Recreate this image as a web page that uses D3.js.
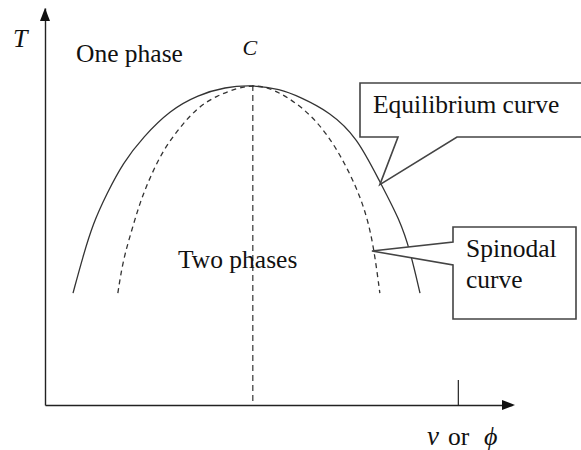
<!DOCTYPE html>
<html>
<head>
<meta charset="utf-8">
<script src="https://cdn.jsdelivr.net/npm/d3@7"></script>
<style>
  html, body { margin: 0; padding: 0; background: #fff; }
  text { font-family: 'Liberation Serif', 'Times New Roman', serif; fill: #111; }
</style>
</head>
<body>
<div id="chart"></div>
<script>
// curve samples (x = v or phi, T), both in 0..100 units
const equilibriumX = [6.0, 8.1, 10.3, 13.3, 16.7, 21.0, 26.8, 32.8, 38.5, 44.5, 50.3, 54.6, 61.0, 66.8, 71.7, 76.0, 78.2, 80.3]
const equilibriumT = [28.2, 37.3, 45.8, 53.4, 61.0, 67.5, 74.3, 78.1, 80.1, 80.6, 79.6, 77.6, 73.8, 67.5, 56.2, 46.6, 38.8, 28.2]
const spinodalX = [15.6, 16.7, 18.6, 20.3, 22.5, 25.3, 28.9, 32.8, 36.8, 41.1, 44.5, 48.8, 55.2, 60.4, 64.7, 68.1, 70.2, 71.7]
const spinodalT = [28.2, 36.5, 44.1, 50.9, 57.4, 64.2, 70.0, 75.1, 77.9, 79.8, 80.6, 79.8, 75.1, 68.5, 59.9, 50.9, 41.6, 28.2]
const critical = { x: 44.5, T: 80.6 }
const markTick = [88.4]

const fullWidth = 581, fullHeight = 450

const svg = d3.select('#chart')
  .append('svg')
    .attr('width', fullWidth)
    .attr('height', fullHeight)

const xScale = d3.scaleLinear().domain([0, 100]).range([45, 512])
const yScale = d3.scaleLinear().domain([0, 100]).range([405, 8])

const ink = '#333'

// axes
svg.append('g')
  .attr('transform', `translate(0, ${yScale(0)})`)
  .call(d3.axisBottom(xScale).tickValues(markTick).tickSize(-25).tickSizeOuter(0).tickFormat(''))
  .call(thinAxis)

svg.append('g')
  .attr('transform', `translate(${xScale(0)}, 0)`)
  .call(d3.axisLeft(yScale).tickValues([]).tickSizeOuter(0))
  .call(thinAxis)

// arrow heads
const x1 = xScale(100), y0 = yScale(0), yTop = yScale(100), x0 = xScale(0)
svg.append('path')
  .attr('d', `M${x1 + 3},${y0} L${x1 - 10},${y0 - 5} L${x1 - 10},${y0 + 5} Z`)
  .attr('fill', '#111')
svg.append('path')
  .attr('d', `M${x0},${yTop} L${x0 - 5},${yTop + 13} L${x0 + 5},${yTop + 13} Z`)
  .attr('fill', '#111')

// curves (basis smooths out reading noise)
const line = d3.line()
  .x(d => xScale(d[0]))
  .y(d => yScale(d[1]))
  .curve(d3.curveBasis)

svg.append('path')
  .datum(d3.zip(equilibriumX, equilibriumT))
  .attr('d', line)
  .attr('fill', 'none')
  .attr('stroke', ink)
  .attr('stroke-width', 1.3)

svg.append('path')
  .datum(d3.zip(spinodalX, spinodalT))
  .attr('d', line)
  .attr('fill', 'none')
  .attr('stroke', ink)
  .attr('stroke-width', 1.3)
  .attr('stroke-dasharray', '5,4')

svg.append('line')
  .attr('x1', xScale(critical.x)).attr('x2', xScale(critical.x))
  .attr('y1', yScale(critical.T)).attr('y2', yScale(0))
  .attr('stroke', ink)
  .attr('stroke-width', 1.2)
  .attr('stroke-dasharray', '6,4')

// labels
svg.append('text').attr('x', 13).attr('y', 47)
  .style('font-style', 'italic').style('font-size', '26px').text('T')
svg.append('text').attr('x', 76).attr('y', 62)
  .style('font-size', '25.5px').text('One phase')
svg.append('text').attr('x', xScale(critical.x) - 3).attr('y', 55)
  .attr('text-anchor', 'middle')
  .style('font-style', 'italic').style('font-size', '22px').text('C')
svg.append('text').attr('x', 178).attr('y', 268)
  .style('font-size', '25.5px').text('Two phases')

svg.append('text').attr('x', 427).attr('y', 445)
  .style('font-style', 'italic').style('font-size', '27px').text('v')
svg.append('text').attr('x', 448).attr('y', 445)
  .style('font-size', '25.5px').text('or')
svg.append('text').attr('x', 484).attr('y', 445)
  .style('font-style', 'italic').style('font-size', '26px').text('ϕ')

// callouts
const eqTip = [xScale(71.7), yScale(55.5)]
svg.append('path')
  .attr('d', `M360,83 H590 V137 H457 L${eqTip[0]},${eqTip[1]} L398,137 H360 Z`)
  .attr('fill', '#fff')
  .attr('stroke', '#444')
  .attr('stroke-width', 1.6)
svg.append('text').attr('x', 373).attr('y', 113)
  .style('font-size', '25.5px').text('Equilibrium curve')

const spTip = [xScale(70.0), yScale(38.8)]
svg.append('path')
  .attr('d', `M453,227 H576 V319 H453 V265 L${spTip[0]},${spTip[1]} L453,242 Z`)
  .attr('fill', '#fff')
  .attr('stroke', '#444')
  .attr('stroke-width', 1.6)
svg.append('text').attr('x', 466).attr('y', 257)
  .style('font-size', '25.5px').text('Spinodal')
svg.append('text').attr('x', 466).attr('y', 288)
  .style('font-size', '25.5px').text('curve')

function thinAxis (g) {
  g.selectAll('.domain')
    .attr('stroke', '#222')
    .attr('stroke-width', 1.4)
  g.selectAll('.tick line')
    .attr('stroke', '#222')
    .attr('stroke-width', 1.2)
}
</script>
</body>
</html>
